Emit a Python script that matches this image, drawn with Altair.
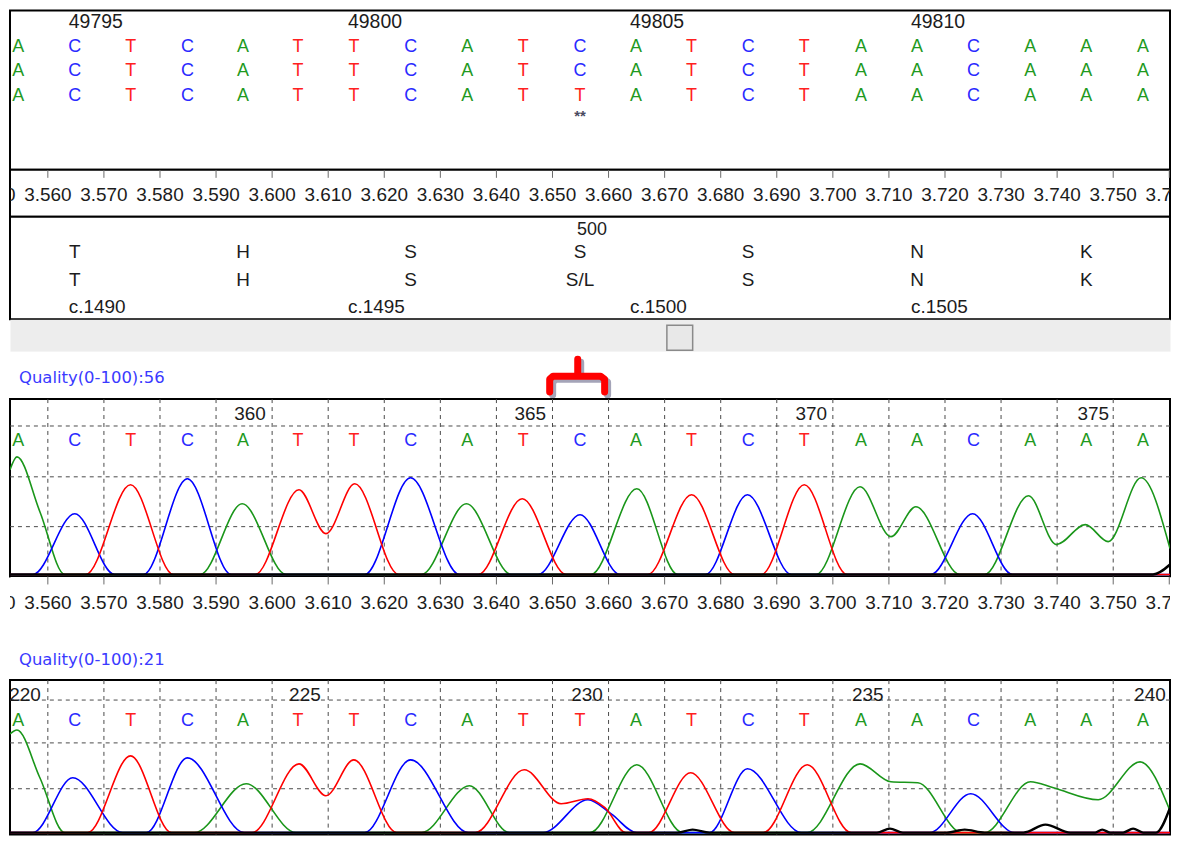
import altair as alt
import pandas as pd

FONT = "Liberation Sans"
QFONT = "DejaVu Sans"
INK = "#1c1c1c"
GRID = "#4a4a4a"
W = 1164

# ---------------- data ----------------
# base-call positions on the run-time axis (shared by every track)
base_t = [3.5547, 3.5648, 3.5748, 3.5849, 3.5948, 3.6046, 3.6146, 3.6247, 3.6348, 3.6448,
          3.6549, 3.6649, 3.6748, 3.6849, 3.6949, 3.7050, 3.7150, 3.7251, 3.7352, 3.7452, 3.7553]
ref_seq_1 = list("ACTCATTCATCATCTAACAAA")
ref_seq_2 = list("ACTCATTCATCATCTAACAAA")
ref_seq_3 = list("ACTCATTCATTATCTAACAAA")
chrom1_calls = list("ACTCATTCATCATCTAACAAA")
chrom2_calls = list("ACTCATTCATTATCTAACAAA")

genomic_pos = ["49795", "49800", "49805", "49810"]
genomic_idx = [1, 6, 11, 16]
diff_mark = ["**"]
diff_idx = [10]
codon_num = ["500"]
codon_idx = [10]
aa_ref = ["T", "H", "S", "S", "S", "N", "K"]
aa_alt = ["T", "H", "S", "S/L", "S", "N", "K"]
aa_idx = [1, 4, 7, 10, 13, 16, 19]
cdna_pos = ["c.1490", "c.1495", "c.1500", "c.1505"]
cdna_idx = [1, 6, 11, 16]
chrom1_pos = ["360", "365", "370", "375"]
chrom1_pos_idx = [4, 9, 14, 19]
chrom2_pos = ["220", "225", "230", "235", "240"]
chrom2_pos_idx = [0, 5, 10, 15, 20]
quality1 = "Quality(0-100):56"
quality2 = "Quality(0-100):21"

ruler_t = [3.550, 3.560, 3.570, 3.580, 3.590, 3.600, 3.610, 3.620, 3.630, 3.640, 3.650,
           3.660, 3.670, 3.680, 3.690, 3.700, 3.710, 3.720, 3.730, 3.740, 3.750, 3.760]
grid_t = [3.560, 3.570, 3.580, 3.590, 3.600, 3.610, 3.620, 3.630, 3.640, 3.650,
          3.660, 3.670, 3.680, 3.690, 3.700, 3.710, 3.720, 3.730, 3.740, 3.750]
grid_levels_1 = [48, 98, 149]
grid_levels_2 = [44, 90, 133]

# trace vertices (time, signal)
chrom1_A = [(3.55325, 105), (3.55449, 118), (3.55858, 63), (3.56302, 0), (3.58719, 0), (3.59466, 71),
            (3.60248, 0), (3.62665, 0), (3.63465, 71), (3.64264, 0), (3.65686, 0), (3.66504, 86),
            (3.67233, 0), (3.69703, 0), (3.70485, 88), (3.71036, 38), (3.71480, 68), (3.72262, 0),
            (3.72707, 0), (3.73489, 79), (3.73986, 30), (3.74502, 50), (3.74911, 33), (3.75497, 97),
            (3.76013, 26)]
chrom1_C = [(3.55325, 0), (3.55733, 0), (3.56480, 61), (3.57191, 0), (3.57706, 0), (3.58488, 96),
            (3.59270, 0), (3.61652, 0), (3.62469, 97), (3.63340, 0), (3.64744, 0), (3.65491, 60),
            (3.66202, 0), (3.67730, 0), (3.68477, 80), (3.69259, 0), (3.71747, 0), (3.72493, 61),
            (3.73204, 0), (3.76013, 0)]
chrom1_T = [(3.55325, 0), (3.56675, 0), (3.57475, 90), (3.58239, 0), (3.59697, 0), (3.60479, 85),
            (3.60959, 41), (3.61474, 91), (3.62256, 0), (3.63678, 0), (3.64460, 76), (3.65242, 0),
            (3.66700, 0), (3.67481, 80), (3.68246, 0), (3.68725, 0), (3.69490, 90), (3.70254, 0),
            (3.76013, 0)]
chrom1_G = [(3.55325, 0), (3.75710, 0), (3.76013, 10)]

chrom2_A = [(3.55325, 99), (3.55449, 103), (3.55858, 55), (3.56302, 0), (3.58613, 0), (3.59537, 49),
            (3.60426, 0), (3.62665, 0), (3.63518, 47), (3.64229, 0), (3.65669, 0), (3.66504, 68),
            (3.67321, 0), (3.69543, 0), (3.70485, 69), (3.71036, 51), (3.71516, 50), (3.72298, 0),
            (3.72707, 0), (3.73524, 51), (3.73933, 45), (3.74733, 33), (3.75479, 71), (3.76013, 22)]
chrom2_C = [(3.55325, 0), (3.55733, 0), (3.56444, 55), (3.57333, 0), (3.57760, 0), (3.58488, 75),
            (3.59501, 0), (3.61652, 0), (3.62469, 73), (3.63500, 0), (3.64833, 0), (3.65633, 33),
            (3.66042, 19), (3.66504, 0), (3.67801, 0), (3.68477, 64), (3.69436, 0), (3.71729, 0),
            (3.72458, 39), (3.73240, 0), (3.76013, 0)]
chrom2_T = [(3.55325, 0), (3.56711, 0), (3.57475, 77), (3.58204, 0), (3.59643, 0), (3.60479, 69),
            (3.60959, 37), (3.61456, 73), (3.62221, 0), (3.63625, 0), (3.64495, 63), (3.65153, 29),
            (3.65633, 34), (3.65935, 25), (3.66308, 0), (3.66717, 0), (3.67464, 60), (3.68246, 0),
            (3.68761, 0), (3.69543, 68), (3.70325, 0), (3.76013, 0)]
chrom2_G = [(3.55325, 0), (3.67233, 0), (3.67499, 3), (3.67801, 0), (3.70787, 0), (3.71018, 4),
            (3.71249, 0), (3.72031, 0), (3.72351, 3), (3.72707, 0), (3.73400, 0), (3.73791, 8),
            (3.74235, 0), (3.74680, 0), (3.74804, 3), (3.74946, 0), (3.75177, 0), (3.75355, 4),
            (3.75532, 0), (3.75764, 0), (3.76013, 25)]

# annotation brace over the variant (time, px from band top) and scrollbar thumb
brace_t = [3.6495, 3.6495, 3.6501, 3.6545, 3.6545, 3.6545, 3.6586, 3.6593, 3.6593]
brace_y = [41, 28, 25, 25, 8, 25, 25, 28, 41]
thumb_t = [3.6704, 3.6750]

# ---------------- helpers ----------------
XS = alt.Scale(domain=[3.55325, 3.76013], nice=False, zero=False)
COL = alt.Scale(domain=["A", "C", "G", "T"], range=["#1f9a1f", "#2a2aff", "#000000", "#ff2020"])
TRACE = {"A": "#1a961a", "C": "#0000ff", "T": "#ff0000", "G": "#000000"}


def xenc():
    return alt.X("t:Q", scale=XS, axis=None)


def labels_df(labels, idx):
    return pd.DataFrame({"t": [base_t[i] for i in idx], "label": labels})


def seq_df(seq):
    return pd.DataFrame({"t": base_t, "label": seq})


def text_layer(df, y, size=19, color=INK, align="center", dx=0, font=FONT, by_base=False,
               weight="normal"):
    m = alt.Chart(df).mark_text(font=font, fontSize=size, align=align, baseline="middle",
                                dx=dx, clip=True, fontWeight=weight)
    enc = dict(x=xenc(), y=alt.value(y), text=alt.Text("label:N"))
    if by_base:
        enc["color"] = alt.Color("label:N", scale=COL, legend=None)
    else:
        enc["color"] = alt.value(color)
    return m.encode(**enc)


def line_df(pts):
    return pd.DataFrame({"t": [p[0] for p in pts], "a": [p[1] for p in pts],
                         "o": list(range(len(pts)))})


BORDER = alt.ViewBackground(fill="white", stroke="black", strokeWidth=2)
PLAIN = alt.ViewBackground(fill="white", stroke="transparent")
SCROLL = alt.ViewBackground(fill="#ededed", stroke="transparent")


def ruler_layers(y_lab):
    df = pd.DataFrame({"t": ruler_t})
    ticks = alt.Chart(df).mark_rule(color="#6a6a6a", strokeWidth=1, clip=True).encode(
        x=xenc(), y=alt.value(0), y2=alt.value(8))
    labs = alt.Chart(df).mark_text(font=FONT, fontSize=19, baseline="middle", align="center",
                                   clip=True, color=INK).encode(
        x=xenc(), y=alt.value(y_lab), text=alt.Text("t:Q", format=".3f"))
    return [ticks, labs]


def chrom_panel(traces, calls, pos, pos_idx, levels, ydom, h, y_num, y_base):
    YS = alt.Scale(domain=ydom, nice=False, zero=False)
    vgrid = alt.Chart(pd.DataFrame({"t": grid_t})).mark_rule(
        strokeDash=[4, 4], color=GRID, strokeWidth=1).encode(x=xenc())
    hgrid = alt.Chart(pd.DataFrame({"a": levels})).mark_rule(
        strokeDash=[4, 4], color=GRID, strokeWidth=1).encode(y=alt.Y("a:Q", scale=YS, axis=None))
    layers = [vgrid, hgrid]
    for ch in ["A", "C", "T", "G"]:
        layers.append(
            alt.Chart(line_df(traces[ch])).mark_line(
                interpolate="monotone", clip=True, color=TRACE[ch],
                strokeWidth=2.4 if ch == "G" else 1.6).encode(
                x=xenc(), y=alt.Y("a:Q", scale=YS, axis=None), order="o:Q"))
    layers.append(text_layer(seq_df(calls), y_base, size=18, by_base=True))
    layers.append(text_layer(labels_df(pos, pos_idx), y_num, size=19, dx=7))
    return alt.layer(*layers).properties(width=W, height=h, view=BORDER)


# ---------------- panels ----------------
p_ref = alt.layer(
    text_layer(labels_df(genomic_pos, genomic_idx), 12, size=19.5, align="left", dx=-6),
    text_layer(seq_df(ref_seq_1), 37, size=18, by_base=True),
    text_layer(seq_df(ref_seq_2), 61, size=18, by_base=True),
    text_layer(seq_df(ref_seq_3), 86, size=18, by_base=True),
    text_layer(labels_df(diff_mark, diff_idx), 106, size=15, color="#4a4a60", weight="bold"),
).properties(width=W, height=160, view=BORDER)

p_ruler1 = alt.layer(*ruler_layers(25)).properties(width=W, height=47, view=BORDER)

p_aa = alt.layer(
    text_layer(labels_df(codon_num, codon_idx), 13, size=18, align="left", dx=-3),
    text_layer(labels_df(aa_ref, aa_idx), 35, size=19),
    text_layer(labels_df(aa_alt, aa_idx), 64, size=19),
    text_layer(labels_df(cdna_pos, cdna_idx), 91, size=19, align="left", dx=-6),
).properties(width=W, height=103, view=BORDER)

thumb = pd.DataFrame({"t": [thumb_t[0]], "t2": [thumb_t[1]]})
p_scroll = alt.layer(
    alt.Chart(thumb).mark_rect(fill="#e8e8e8", stroke="#8a8a8a", strokeWidth=1.5).encode(
        x=xenc(), x2="t2:Q", y=alt.value(6), y2=alt.value(31)),
).properties(width=W, height=32, view=SCROLL)

brace = pd.DataFrame({"t": brace_t, "py": brace_y, "o": list(range(len(brace_t)))})
BY = alt.Scale(domain=[0, 48], reverse=True, nice=False, zero=False)
q1 = pd.DataFrame({"label": [quality1]})
p_q1 = alt.layer(
    alt.Chart(q1).mark_text(font=QFONT, fontSize=16.5, align="left", baseline="middle",
                            color="#3a3aff").encode(x=alt.value(9), y=alt.value(27), text="label:N"),
    alt.Chart(brace).mark_line(color="#a4a4b8", strokeWidth=7, strokeJoin="round",
                               strokeCap="round", xOffset=3, yOffset=3).encode(
        x=xenc(), y=alt.Y("py:Q", scale=BY, axis=None), order="o:Q"),
    alt.Chart(brace).mark_line(color="#ff0000", strokeWidth=7, strokeJoin="round",
                               strokeCap="round").encode(
        x=xenc(), y=alt.Y("py:Q", scale=BY, axis=None), order="o:Q"),
).properties(width=W, height=48, view=PLAIN)

p_chrom1 = chrom_panel({"A": chrom1_A, "C": chrom1_C, "T": chrom1_T, "G": chrom1_G},
                       chrom1_calls, chrom1_pos, chrom1_pos_idx, grid_levels_1,
                       [-2, 176], 178, 15, 42)

q2 = pd.DataFrame({"label": [quality2]})
p_q2 = alt.layer(
    *ruler_layers(27),
    alt.Chart(q2).mark_text(font=QFONT, fontSize=16.5, align="left", baseline="middle",
                            color="#3a3aff").encode(x=alt.value(9), y=alt.value(84), text="label:N"),
).properties(width=W, height=104, view=PLAIN)

p_chrom2 = chrom_panel({"A": chrom2_A, "C": chrom2_C, "T": chrom2_T, "G": chrom2_G},
                       chrom2_calls, chrom2_pos, chrom2_pos_idx, grid_levels_2,
                       [-2, 153], 155, 15, 41)

chart = alt.vconcat(
    p_ref, p_ruler1, p_aa, p_scroll, p_q1, p_chrom1, p_q2, p_chrom2,
    spacing=0, bounds="flush", background="white",
    padding={"left": 0, "top": 0, "right": 0, "bottom": 0},
).resolve_scale(x="independent", y="independent")

chart.save("out.html", embed_options={"renderer": "svg", "actions": False})
